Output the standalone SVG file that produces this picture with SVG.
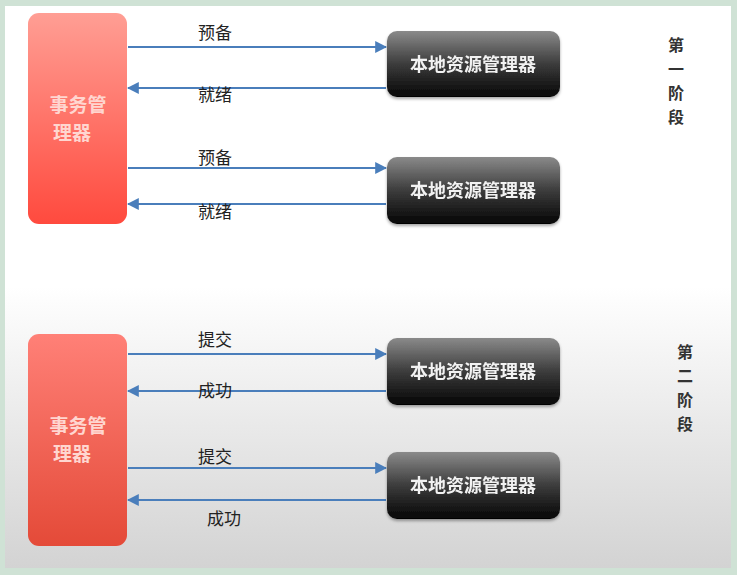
<svg xmlns="http://www.w3.org/2000/svg" width="737" height="575" viewBox="0 0 737 575">
  <defs>
    <linearGradient id="slideBg" x1="0" y1="0" x2="0" y2="1">
      <stop offset="0" stop-color="#ffffff"/>
      <stop offset="0.5" stop-color="#ffffff"/>
      <stop offset="1" stop-color="#d3d3d3"/>
    </linearGradient>
    <linearGradient id="tmTop" x1="0" y1="0" x2="0" y2="1">
      <stop offset="0" stop-color="#ff9e94"/>
      <stop offset="1" stop-color="#ff4a3e"/>
    </linearGradient>
    <linearGradient id="tmBottom" x1="0" y1="0" x2="0" y2="1">
      <stop offset="0" stop-color="#ff8077"/>
      <stop offset="1" stop-color="#e44a38"/>
    </linearGradient>
    <linearGradient id="rmFill" x1="0" y1="0" x2="0" y2="1">
      <stop offset="0" stop-color="#8a8a8a"/>
      <stop offset="0.5" stop-color="#3c3c3c"/>
      <stop offset="1" stop-color="#050505"/>
    </linearGradient>
    <filter id="soft" x="-10%" y="-10%" width="120%" height="130%">
      <feDropShadow dx="0" dy="2" stdDeviation="1.5" flood-color="#000" flood-opacity="0.35"/>
    </filter>
    <marker id="arrow" viewBox="0 0 10 10" refX="9" refY="5" markerWidth="6" markerHeight="6" orient="auto-start-reverse">
      <path d="M0,0 L10,5 L0,10 z" fill="#4a7ebb"/>
    </marker>
  </defs>
  <style>
    .cjk { font-family: "Noto Sans CJK SC", "Liberation Sans", sans-serif; }
    .tm { fill: #ffd6d0; font-size: 19px; font-weight: bold; text-anchor: middle; }
    .rm { fill: #f2f2f2; font-size: 18px; font-weight: bold; text-anchor: middle; }
    .lbl { fill: #222; font-size: 17px; text-anchor: middle; }
    .phase { fill: #333; font-size: 16px; text-anchor: middle; font-weight: bold; }
    .conn { stroke: #4a7ebb; stroke-width: 2; fill: none; }
  </style>

  <!-- frame and slide -->
  <rect x="0" y="0" width="737" height="575" fill="#cfe2d5"/>
  <rect x="5" y="6" width="726" height="562" fill="url(#slideBg)"/>

  <!-- connectors -->
  <g id="connectors">
    <line class="conn" x1="128" y1="47" x2="386" y2="47" marker-end="url(#arrow)"/>
    <line class="conn" x1="386" y1="88" x2="128" y2="88" marker-end="url(#arrow)"/>
    <line class="conn" x1="128" y1="168" x2="386" y2="168" marker-end="url(#arrow)"/>
    <line class="conn" x1="386" y1="204" x2="128" y2="204" marker-end="url(#arrow)"/>
    <line class="conn" x1="128" y1="354" x2="386" y2="354" marker-end="url(#arrow)"/>
    <line class="conn" x1="386" y1="391" x2="128" y2="391" marker-end="url(#arrow)"/>
    <line class="conn" x1="128" y1="468" x2="386" y2="468" marker-end="url(#arrow)"/>
    <line class="conn" x1="386" y1="500" x2="128" y2="500" marker-end="url(#arrow)"/>
    <g class="cjk lbl">
      <text x="215" y="39">预备</text>
      <text x="215" y="101">就绪</text>
      <text x="215" y="164">预备</text>
      <text x="215" y="218">就绪</text>
      <text x="215" y="346">提交</text>
      <text x="215" y="397">成功</text>
      <text x="215" y="463">提交</text>
      <text x="224" y="525">成功</text>
    </g>
  </g>

  <!-- phase one -->
  <g id="tm1">
    <rect x="28" y="13" width="99" height="211" rx="11" fill="url(#tmTop)"/>
    <text class="cjk tm" x="78" y="112">事务管</text>
    <text class="cjk tm" x="72" y="140">理器</text>
  </g>
  <g id="rm1" filter="url(#soft)">
    <rect x="387" y="31" width="173" height="66" rx="10" fill="url(#rmFill)"/>
    <text class="cjk rm" x="473" y="71">本地资源管理器</text>
  </g>
  <g id="rm2" filter="url(#soft)">
    <rect x="387" y="157" width="173" height="67" rx="10" fill="url(#rmFill)"/>
    <text class="cjk rm" x="473" y="197">本地资源管理器</text>
  </g>
  <g id="phase1" class="cjk phase">
    <text x="676" y="51">第</text>
    <text x="676" y="75">一</text>
    <text x="676" y="99">阶</text>
    <text x="676" y="123">段</text>
  </g>

  <!-- phase two -->
  <g id="tm2">
    <rect x="28" y="334" width="99" height="212" rx="11" fill="url(#tmBottom)"/>
    <text class="cjk tm" x="78" y="433">事务管</text>
    <text class="cjk tm" x="72" y="461">理器</text>
  </g>
  <g id="rm3" filter="url(#soft)">
    <rect x="387" y="338" width="173" height="67" rx="10" fill="url(#rmFill)"/>
    <text class="cjk rm" x="473" y="378">本地资源管理器</text>
  </g>
  <g id="rm4" filter="url(#soft)">
    <rect x="387" y="452" width="173" height="67" rx="10" fill="url(#rmFill)"/>
    <text class="cjk rm" x="473" y="492">本地资源管理器</text>
  </g>
  <g id="phase2" class="cjk phase">
    <text x="685" y="358">第</text>
    <text x="685" y="382">二</text>
    <text x="685" y="406">阶</text>
    <text x="685" y="430">段</text>
  </g>
</svg>
